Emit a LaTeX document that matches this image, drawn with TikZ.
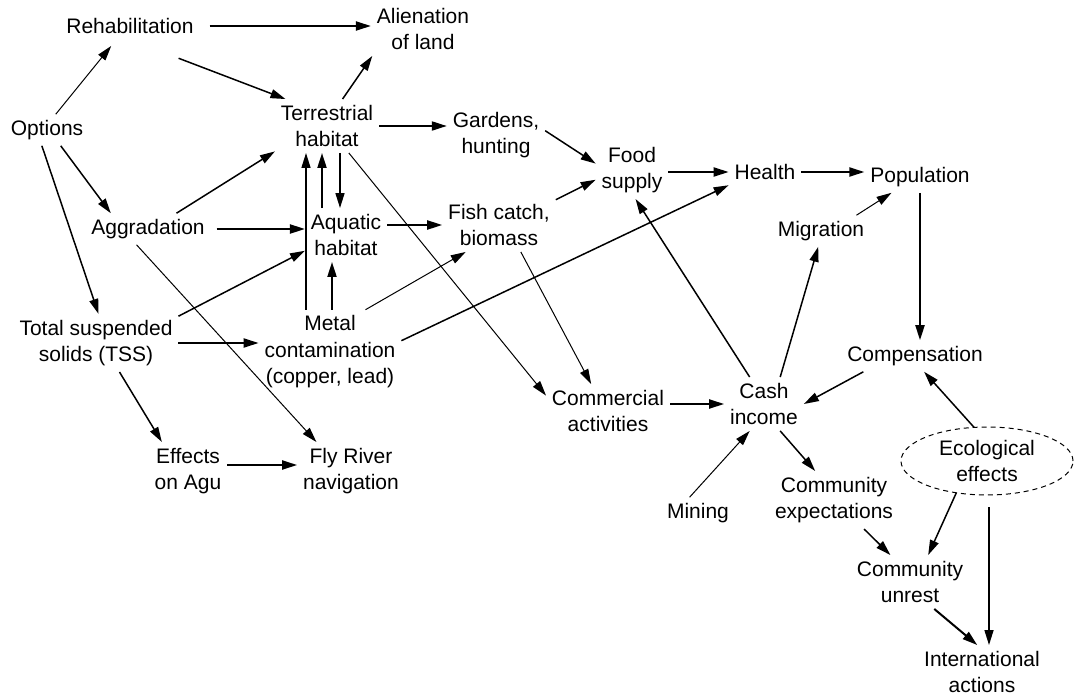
\documentclass[tikz,border=0pt]{standalone}
\usepackage{fontspec}
\setmainfont{Liberation Sans}
\usetikzlibrary{shapes.geometric, arrows.meta, positioning, calc}

\begin{document}
\begin{tikzpicture}[x=1pt, y=-1pt,
    lbl/.style={align=center, inner sep=6pt, outer sep=0pt,
                font=\fontsize{21}{26.5}\selectfont},
    arr/.style={-{Triangle[length=15pt, width=9pt]}, line width=1.5pt},
    thk/.style={arr, line width=2pt},
    thn/.style={arr, line width=1pt}
]
    \useasboundingbox (0,0) rectangle (1082,699);

    % factors
    \node[lbl] (reh) at (130,26) {Rehabilitation};
    \node[lbl] (alien) at (423,29) {Alienation\\of land};
    \node[lbl] (opt) at (47,130) {Options};
    \node[lbl] (ter) at (327,126) {Terrestrial\\habitat};
    \node[lbl] (gard) at (496,135) {Gardens,\\hunting};
    \node[lbl] (food) at (632,170) {Food\\supply};
    \node[lbl] (health) at (765,172) {Health};
    \node[lbl] (pop) at (920,177) {Population};
    \node[lbl] (mig) at (821,231) {Migration};
    \node[lbl] (aqu) at (346,235) {Aquatic\\habitat};
    \node[lbl] (fish) at (499,225) {Fish catch,\\biomass};
    \node[lbl] (agg) at (148,229) {Aggradation};
    \node[lbl] (tss) at (96,343) {Total suspended\\solids (TSS)};
    \node[lbl] (metal) at (330,352) {Metal\\contamination\\(copper, lead)};
    \node[lbl] (agu) at (188,471) {Effects\\on Agu};
    \node[lbl] (fly) at (351,471) {Fly River\\navigation};
    \node[lbl] (com) at (608,411) {Commercial\\activities};
    \node[lbl] (cash) at (764,404) {Cash\\income};
    \node[lbl] (comp) at (915,356) {Compensation};
    \node[lbl, ellipse, draw, dash pattern=on 5pt off 4pt, line width=1pt,
          minimum width=172pt, minimum height=68pt, inner sep=0pt]
          (eco) at (987,461) {Ecological\\effects};
    \node[lbl] (mining) at (698,513) {Mining};
    \node[lbl] (cexp) at (834,500) {Community\\expectations};
    \node[lbl] (unrest) at (910,582) {Community\\unrest};
    \node[lbl] (intl) at (982,672) {International\\actions};

    % links
    \draw[thk, shorten <=10pt] (reh.east) -- (reh.east -| alien.west);
    \draw[arr, shorten <=52pt] (reh.south) -- (ter.147);
    \draw[thn, shorten >=8pt] (opt.61) -- (reh.225);
    \draw[arr] (ter.60) -- (alien.208);
    \draw[arr] (opt.-49) -- (agg.157);
    \draw[arr] (opt.252) -- (tss.85);
    \draw[arr] (agg.29) -- (ter.206);
    \draw[thk, shorten <=6pt] (agg.east) -- (agg.east -| aqu.west);
    \draw[thn] (agg.234) -- (fly.140);
    \draw[arr] ([xshift=-24pt]metal.north) -- ([xshift=-24pt]metal.north |- ter.south);
    \draw[thk] ([xshift=-24pt]aqu.north) -- ([xshift=-24pt]aqu.north |- ter.south);
    \draw[arr] ([xshift=13pt]ter.south) -- ([xshift=13pt]ter.south |- aqu.north);
    \draw[thk] ([xshift=2pt]metal.north) -- ([xshift=2pt]metal.north |- aqu.south);
    \draw[arr] (tss.18) -- (aqu.201);
    \draw[thk] (tss.east) -- (tss.east -| metal.west);
    \draw[thk] (ter.east) -- (ter.east -| gard.west);
    \draw[thn] (ter.-51) -- (com.166);
    \draw[thk] (fish.west -| aqu.east) -- (fish.west);
    \draw[thn] (metal.50) -- (fish.219);
    \draw[arr] (metal.9) -- (health.200);
    \draw[arr] (gard.5) -- (food.170);
    \draw[arr] (fish.24) -- (food.195);
    \draw[thn] (fish.-51) -- (com.122);
    \draw[thk] (health.west -| food.east) -- (health.west);
    \draw[thk] (health.east) -- (health.east -| pop.west);
    \draw[thn] (mig.24) -- (pop.209);
    \draw[thk] (pop.south) -- (pop.south |- comp.north);
    \draw[arr] (cash.118) -- (food.-83);
    \draw[arr] (cash.59) -- (mig.260);
    \draw[arr] (comp.197) -- (cash.east);
    \draw[thk] (cash.west -| com.east) -- (cash.west);
    \draw[thn] (mining.118) -- (cash.242);
    \draw[arr] (cash.-59) -- (cexp.123);
    \draw[arr] (eco.111) -- (comp.-60);
    \draw[arr] (cexp.-44) -- (unrest.126);
    \draw[arr] (eco.226) -- (unrest.56);
    \draw[arr, shorten <=12pt] ([xshift=2pt]eco.south) -- ([xshift=2pt]eco.south |- intl.north);
    \draw[thk] (unrest.-48) -- (intl.100);
    \draw[thk] ([yshift=6pt]agu.east) -- ([yshift=6pt]agu.east -| fly.west);
    \draw[arr] (tss.-51) -- (agu.132);
\end{tikzpicture}
\end{document}
